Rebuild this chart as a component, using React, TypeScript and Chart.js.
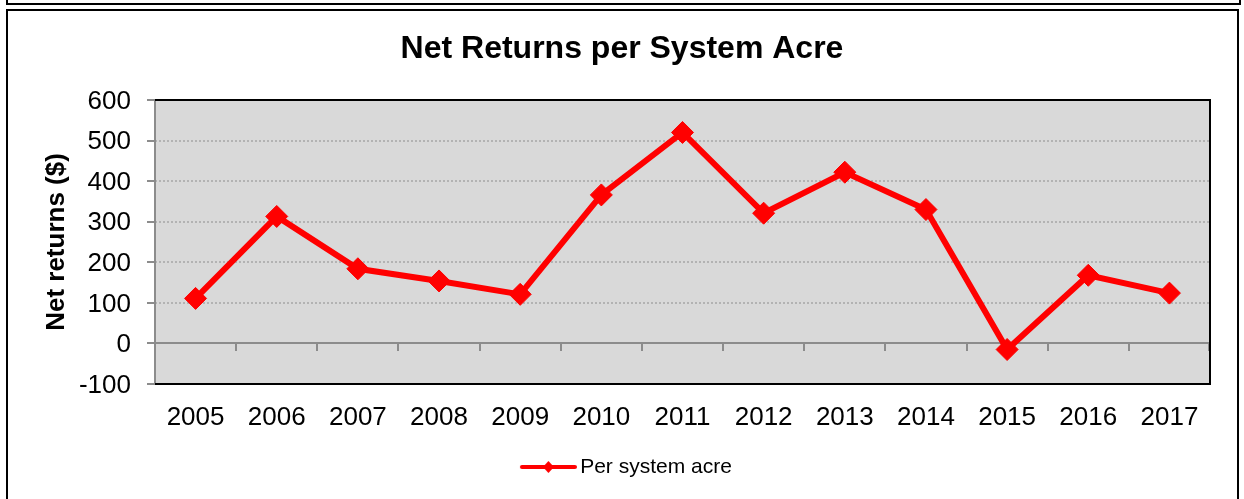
import React, { useEffect, useRef } from "react";
import { Chart, registerables } from "chart.js";

Chart.register(...registerables);

const categories = ["2005", "2006", "2007", "2008", "2009", "2010", "2011", "2012", "2013", "2014", "2015", "2016", "2017"];
const netReturns = [111, 313, 184, 154, 121, 366, 520, 321, 422, 330, -15, 168, 124];
const seriesLabel = "Per system acre";
const chartTitle = "Net Returns per System Acre";
const yAxisTitle = "Net returns ($)";
const yMin = -100;
const yMax = 600;
const yStep = 100;

const FONT = "'Liberation Sans', Arial, Helvetica, sans-serif";
const RED = "#ff0000";

function makeLegendImage(): HTMLCanvasElement {
  const c = document.createElement("canvas");
  c.width = 72;
  c.height = 16;
  const g = c.getContext("2d")!;
  g.strokeStyle = RED;
  g.lineWidth = 4;
  g.lineCap = "round";
  g.beginPath();
  g.moveTo(17, 8);
  g.lineTo(70, 8);
  g.stroke();
  g.fillStyle = RED;
  g.beginPath();
  const cx = 43.5;
  g.moveTo(cx, 2);
  g.lineTo(cx + 5.5, 8);
  g.lineTo(cx, 14);
  g.lineTo(cx - 5.5, 8);
  g.closePath();
  g.fill();
  return c;
}

const decorPlugin = {
  id: "decor",
  beforeDraw(chart: any) {
    const ctx = chart.ctx;
    ctx.save();
    ctx.strokeStyle = "#000";
    ctx.lineWidth = 2;
    // upper box remnant
    ctx.beginPath();
    ctx.moveTo(7, 0);
    ctx.lineTo(7, 4);
    ctx.lineTo(1240, 4);
    ctx.lineTo(1240, 0);
    ctx.stroke();
    // main box
    ctx.beginPath();
    ctx.moveTo(7, 510);
    ctx.lineTo(7, 10);
    ctx.lineTo(1238, 10);
    ctx.lineTo(1238, 510);
    ctx.stroke();
    ctx.restore();
  },
  beforeDatasetsDraw(chart: any) {
    const ctx = chart.ctx;
    const { left, right, top, bottom } = chart.chartArea;
    const y = chart.scales.y;
    const x = chart.scales.x;
    ctx.save();
    ctx.fillStyle = "#d9d9d9";
    ctx.fillRect(left, top, right - left, bottom - top);
    // dotted gridlines
    ctx.strokeStyle = "#a6a6a6";
    ctx.lineWidth = 1.5;
    ctx.setLineDash([2, 2]);
    for (let v = yMin + yStep; v < yMax; v += yStep) {
      if (v === 0) continue;
      const py = Math.round(y.getPixelForValue(v));
      ctx.beginPath();
      ctx.moveTo(left, py);
      ctx.lineTo(right, py);
      ctx.stroke();
    }
    ctx.setLineDash([]);
    // zero line + category ticks
    const zy = Math.round(y.getPixelForValue(0));
    ctx.strokeStyle = "#8c8c8c";
    ctx.lineWidth = 2;
    ctx.beginPath();
    ctx.moveTo(left, zy);
    ctx.lineTo(right, zy);
    ctx.stroke();
    for (let i = 1; i <= categories.length; i++) {
      const px = Math.round((x.getPixelForValue(i - 1) + x.getPixelForValue(i)) / 2);
      const bx = i === categories.length ? right - 1 : px;
      ctx.beginPath();
      ctx.moveTo(bx, zy);
      ctx.lineTo(bx, zy + 8);
      ctx.stroke();
    }
    // y axis line + ticks
    ctx.beginPath();
    ctx.moveTo(left, top);
    ctx.lineTo(left, bottom);
    ctx.stroke();
    for (let v = yMin; v <= yMax; v += yStep) {
      const py = Math.round(y.getPixelForValue(v));
      ctx.beginPath();
      ctx.moveTo(left - 8, py);
      ctx.lineTo(left, py);
      ctx.stroke();
    }
    // black frame top/right/bottom
    ctx.strokeStyle = "#000";
    ctx.lineWidth = 2;
    ctx.beginPath();
    ctx.moveTo(left, top);
    ctx.lineTo(right, top);
    ctx.lineTo(right, bottom);
    ctx.lineTo(left, bottom);
    ctx.stroke();
    ctx.restore();
  },
};

export default function App() {
  const ref = useRef<HTMLCanvasElement | null>(null);
  useEffect(() => {
    if (!ref.current) return;
    const legendImg = makeLegendImage();
    const chart = new Chart(ref.current, {
      type: "line",
      data: {
        labels: categories,
        datasets: [
          {
            label: seriesLabel,
            data: netReturns,
            borderColor: RED,
            backgroundColor: RED,
            borderWidth: 6,
            pointStyle: "rectRot",
            pointRadius: 11,
            pointBorderWidth: 1,
            pointBackgroundColor: RED,
            pointBorderColor: RED,
            tension: 0,
            fill: false,
          },
        ],
      },
      options: {
        responsive: false,
        animation: false,
        layout: { padding: { left: 0, right: 0, top: 0, bottom: 11.5 } },
        plugins: {
          tooltip: { enabled: false },
          title: {
            display: true,
            text: chartTitle,
            color: "#000",
            font: { family: FONT, size: 32, weight: "bold" },
            padding: { top: 30, bottom: 31.6 },
          },
          legend: {
            display: true,
            position: "bottom",
            labels: {
              usePointStyle: true,
              pointStyle: legendImg as any,
              pointStyleWidth: 57.5,
              color: "#000",
              padding: 10,
              font: { family: FONT, size: 21 },
            },
          },
        },
        scales: {
          x: {
            type: "category",
            offset: true,
            grid: { display: false, drawTicks: false },
            border: { display: false },
            ticks: {
              color: "#000",
              font: { family: FONT, size: 26 },
              padding: 18,
              maxRotation: 0,
              autoSkip: false,
            },
            afterFit(scale: any) {
              scale.height = 62.5;
            },
          },
          y: {
            type: "linear",
            position: "left",
            min: yMin,
            max: yMax,
            grid: { display: false, drawTicks: false },
            border: { display: false },
            ticks: {
              stepSize: yStep,
              color: "#000",
              font: { family: FONT, size: 26 },
              padding: 24,
              labelOffset: 1.5,
            },
            title: {
              display: true,
              text: yAxisTitle,
              color: "#000",
              font: { family: FONT, size: 26, weight: "bold" },
              padding: { top: 41, bottom: 0 },
            },
            afterFit(scale: any) {
              scale.width = 155;
            },
          },
          yr: {
            type: "linear",
            position: "right",
            display: true,
            grid: { display: false, drawTicks: false },
            border: { display: false },
            ticks: { display: false },
            afterFit(scale: any) {
              scale.width = 34;
            },
          },
        },
      },
      plugins: [decorPlugin],
    });
    return () => chart.destroy();
  }, []);
  return (
    <div style={{ position: "fixed", left: 0, top: 0, width: 1244, height: 499, background: "#fff" }}>
      <canvas ref={ref} width={1244} height={499} style={{ display: "block" }} />
    </div>
  );
}
